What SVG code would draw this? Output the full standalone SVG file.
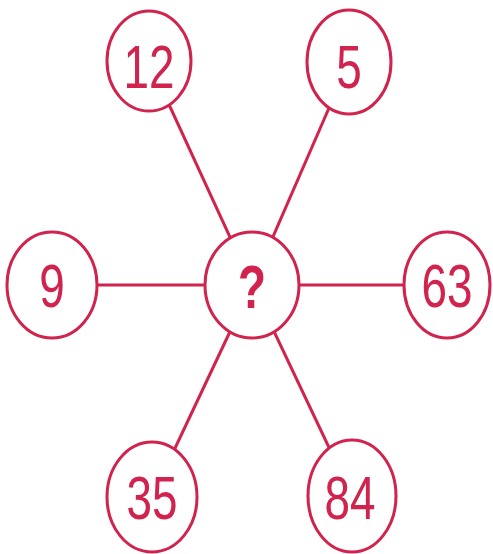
<svg xmlns="http://www.w3.org/2000/svg" width="493" height="554" viewBox="0 0 493 554">
<style>
.n{fill:#fff;stroke:#d0234e;stroke-width:3}
.c{stroke:#d0234e;stroke-width:3;fill:none}
.t{font-family:"Liberation Sans",Arial,sans-serif;font-size:62px;fill:#d0234e;text-anchor:middle}
</style>
<rect width="493" height="554" fill="#fff"/>
<g id="connectors">
<line class="c" x1="149" y1="61" x2="252" y2="285"/>
<line class="c" x1="349" y1="62" x2="252" y2="285"/>
<line class="c" x1="52" y1="285" x2="252" y2="285"/>
<line class="c" x1="447" y1="285" x2="252" y2="285"/>
<line class="c" x1="152" y1="497" x2="252" y2="285"/>
<line class="c" x1="352" y1="496" x2="252" y2="285"/>
</g>
<g id="n12"><ellipse class="n" cx="149" cy="61" rx="42" ry="50"/><text class="t" transform="translate(149,88) scale(0.74,1)">12</text></g>
<g id="n5"><ellipse class="n" cx="349" cy="62" rx="42" ry="52"/><text class="t" transform="translate(349,88) scale(0.74,1)">5</text></g>
<g id="n9"><ellipse class="n" cx="52" cy="285" rx="45" ry="53"/><text class="t" transform="translate(52,307) scale(0.74,1)">9</text></g>
<g id="nq"><ellipse class="n" cx="252" cy="285" rx="47" ry="53"/><text class="t" font-weight="bold" transform="translate(252,308) scale(0.74,1)">?</text></g>
<g id="n63"><ellipse class="n" cx="447" cy="285" rx="43" ry="53"/><text class="t" transform="translate(447,307) scale(0.74,1)">63</text></g>
<g id="n35"><ellipse class="n" cx="152" cy="497" rx="45" ry="55"/><text class="t" transform="translate(152,519) scale(0.74,1)">35</text></g>
<g id="n84"><ellipse class="n" cx="352" cy="496" rx="44" ry="56"/><text class="t" transform="translate(350,519) scale(0.74,1)">84</text></g>
</svg>
